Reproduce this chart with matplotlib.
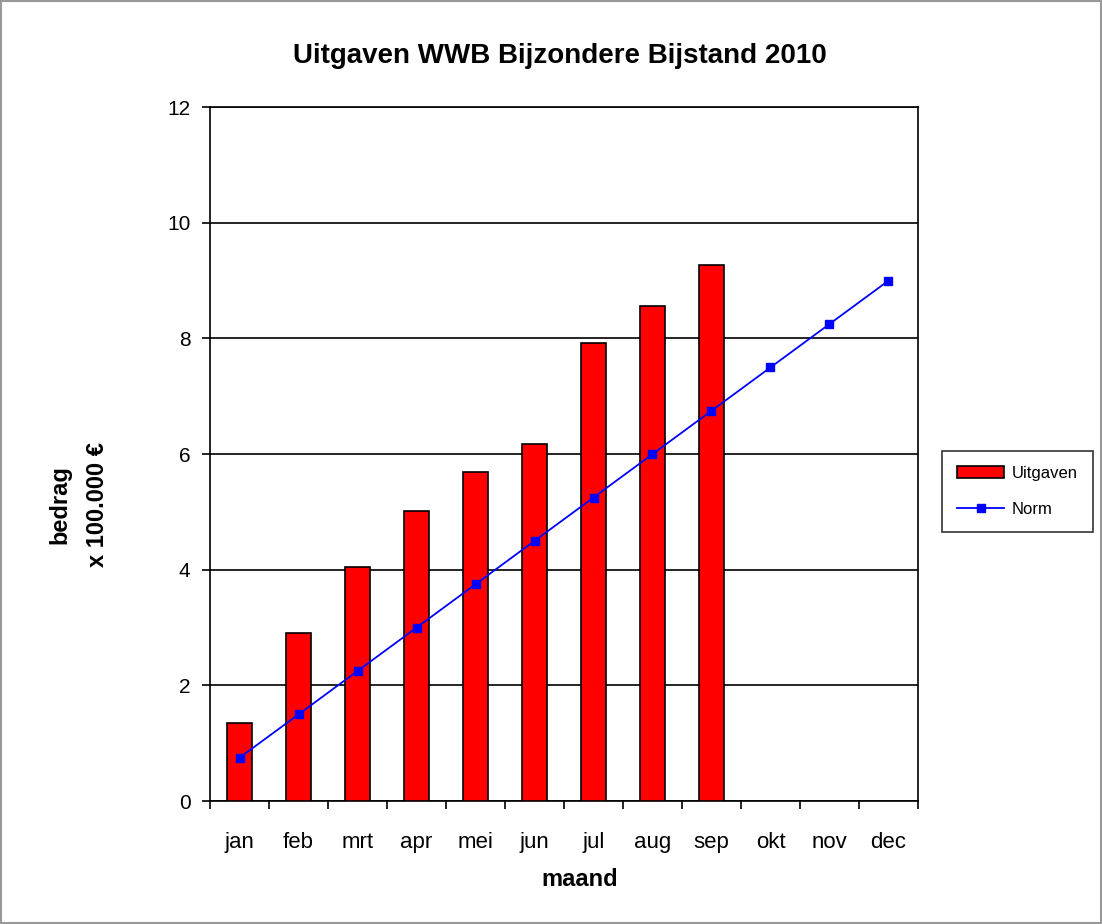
import numpy as np
import matplotlib.pyplot as plt
from matplotlib.patches import Rectangle

plt.rcParams['font.family'] = ['Liberation Sans', 'DejaVu Sans']

maanden = ['jan', 'feb', 'mrt', 'apr', 'mei', 'jun', 'jul', 'aug', 'sep', 'okt', 'nov', 'dec']
uitgaven = [1.35, 2.9, 4.05, 5.02, 5.69, 6.17, 7.93, 8.57, 9.27]
norm = [0.75, 1.5, 2.25, 3.0, 3.75, 4.5, 5.25, 6.0, 6.75, 7.5, 8.25, 9.0]

fig = plt.figure(figsize=(11.02, 9.24), dpi=100)
ax = fig.add_axes([0.1906, 0.133, 0.6424, 0.751])

x = np.arange(len(maanden))
bars = ax.bar(x[:len(uitgaven)], uitgaven, width=0.41, color='#ff0000', edgecolor='black',
              linewidth=1.2, label='Uitgaven', zorder=3)
lijn, = ax.plot(x, norm, color='#0000ff', marker='s', markersize=6, linewidth=1.3,
                label='Norm', zorder=4)

ax.set_xlim(-0.5, 11.5)
ax.set_ylim(0, 12)
ax.set_yticks(range(0, 13, 2))
ax.yaxis.grid(True, color='black', linewidth=1.2, zorder=0)
ax.set_axisbelow(True)

# maandnamen in het midden, streepjes tussen de maanden
ax.set_xticks(x)
ax.set_xticklabels(maanden)
ax.tick_params(axis='x', length=0, pad=22, labelsize=16)
ax.set_xticks(np.arange(-0.5, 12, 1), minor=True)
ax.tick_params(axis='x', which='minor', length=6, width=1.2, direction='out')
ax.tick_params(axis='y', length=6, width=1.2, labelsize=15, pad=8)

for s in ax.spines.values():
    s.set_linewidth(1.2)

fig.text(560 / 1102, 1 - 56 / 924, 'Uitgaven WWB Bijzondere Bijstand 2010',
         fontsize=20, fontweight='bold', ha='center', va='center')
fig.text(580 / 1102, 1 - 880 / 924, 'maand', fontsize=17, fontweight='bold',
         ha='center', va='center')
fig.text(79 / 1102, 1 - 505 / 924, 'bedrag\nx 100.000 €', fontsize=17, fontweight='bold',
         ha='center', va='center', rotation=90, multialignment='center', linespacing=1.8)

leg = ax.legend([bars, lijn], ['Uitgaven', 'Norm'], loc='center',
                bbox_to_anchor=(1017.5 / 1102, 1 - 491.5 / 924),
                bbox_transform=fig.transFigure, fontsize=12, frameon=True,
                fancybox=False, edgecolor='black', handlelength=2.8, handletextpad=0.45,
                labelspacing=1.3, borderpad=0.9)
leg.get_frame().set_linewidth(1.2)

fig.patches.append(Rectangle((0.001, 0.001), 0.998, 0.998, transform=fig.transFigure,
                             fill=False, edgecolor='#999999', linewidth=1.5))

fig.savefig('out.png', dpi=100)
